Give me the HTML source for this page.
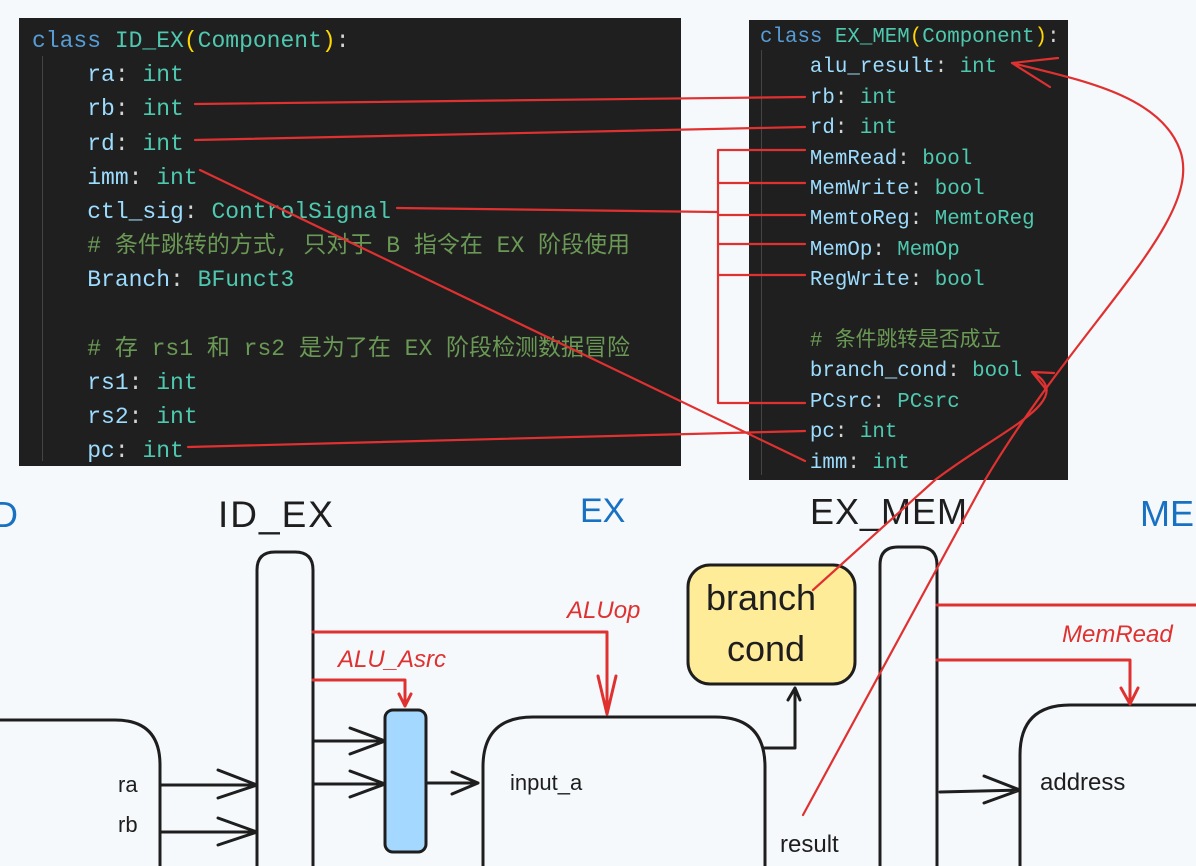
<!DOCTYPE html>
<html><head><meta charset="utf-8"><style>
html,body{margin:0;padding:0;background:#f5f9fc;}
body{width:1196px;height:866px;overflow:hidden;position:relative;}
.panel{position:absolute;background:#1f1f1f;}
.code{position:absolute;font-family:"Liberation Mono","Noto Sans CJK SC",monospace;white-space:pre;color:#9cdcfe;}
.k{color:#569cd6}.c{color:#4ec9b0}.p{color:#ffd700}.w{color:#d4d4d4}.m{color:#6a9955}
</style></head><body>
<div class="panel" style="left:19px;top:18px;width:662px;height:448px;"></div>
<div class="panel" style="left:749px;top:20px;width:319px;height:460px;"></div>
<div style="position:absolute;left:42px;top:56px;width:1px;height:405px;background:#444"></div>
<div style="position:absolute;left:761px;top:50px;width:1px;height:425px;background:#444"></div>
<div class="code" style="left:32px;top:24px;font-size:23px;line-height:34.2px;"><span class="k">class</span> <span class="c">ID_EX</span><span class="p">(</span><span class="c">Component</span><span class="p">)</span><span class="w">:</span>
    ra<span class="w">:</span> <span class="c">int</span>
    rb<span class="w">:</span> <span class="c">int</span>
    rd<span class="w">:</span> <span class="c">int</span>
    imm<span class="w">:</span> <span class="c">int</span>
    ctl_sig<span class="w">:</span> <span class="c">ControlSignal</span>
    <span class="m"># 条件跳转的方式, 只对于 B 指令在 EX 阶段使用</span>
    Branch<span class="w">:</span> <span class="c">BFunct3</span>

    <span class="m"># 存 rs1 和 rs2 是为了在 EX 阶段检测数据冒险</span>
    rs1<span class="w">:</span> <span class="c">int</span>
    rs2<span class="w">:</span> <span class="c">int</span>
    pc<span class="w">:</span> <span class="c">int</span></div>
<div class="code" style="left:760px;top:23px;font-size:20.8px;line-height:30.4px;"><span class="k">class</span> <span class="c">EX_MEM</span><span class="p">(</span><span class="c">Component</span><span class="p">)</span><span class="w">:</span>
    alu_result<span class="w">:</span> <span class="c">int</span>
    rb<span class="w">:</span> <span class="c">int</span>
    rd<span class="w">:</span> <span class="c">int</span>
    MemRead<span class="w">:</span> <span class="c">bool</span>
    MemWrite<span class="w">:</span> <span class="c">bool</span>
    MemtoReg<span class="w">:</span> <span class="c">MemtoReg</span>
    MemOp<span class="w">:</span> <span class="c">MemOp</span>
    RegWrite<span class="w">:</span> <span class="c">bool</span>

    <span class="m"># 条件跳转是否成立</span>
    branch_cond<span class="w">:</span> <span class="c">bool</span>
    PCsrc<span class="w">:</span> <span class="c">PCsrc</span>
    pc<span class="w">:</span> <span class="c">int</span>
    imm<span class="w">:</span> <span class="c">int</span></div>
<svg width="1196" height="866" style="position:absolute;left:0;top:0" fill="none" stroke-linecap="round" stroke-linejoin="round">
<g font-family="Liberation Sans, sans-serif">
<text x="-8" y="527" font-size="36" fill="#1971c2">D</text>
<text x="218" y="527" font-size="37" fill="#1e1e1e" letter-spacing="2">ID_EX</text>
<text x="580" y="522" font-size="34" fill="#1971c2">EX</text>
<text x="810" y="524" font-size="36" fill="#1e1e1e" letter-spacing="1">EX_MEM</text>
<text x="1140" y="526" font-size="36" fill="#1971c2">ME</text>
</g>
<g stroke="#1e1e1e" stroke-width="3">
<path d="M0,720 L115,720 Q160,720 160,765 L160,866"/>
<path d="M257,866 L257,570 Q257,552 275,552 L295,552 Q313,552 313,570 L313,866"/>
<path d="M880,866 L880,565 Q880,547 898,547 L919,547 Q937,547 937,565 L937,866"/>
<rect x="385" y="710" width="41" height="142" rx="8" fill="#a5d8ff"/>
<path d="M483,866 L483,767 Q483,717 533,717 L715,717 Q765,717 765,767 L765,866"/>
<path d="M1020,866 L1020,755 Q1020,705 1070,705 L1196,705"/>
<rect x="688" y="565" width="167" height="119" rx="22" fill="#ffec99"/>
<path d="M160,785 L257,785 M218,770 L257,785 L218,798"/>
<path d="M160,832 L257,832 M218,818 L257,832 L218,845"/>
<path d="M313,741 L385,741 M350,728 L385,741 L350,754"/>
<path d="M313,784 L385,784 M350,771 L385,784 L350,797"/>
<path d="M426,783 L478,783 M452,772 L478,783 L452,794"/>
<path d="M765,748 L795,748 L795,688 M788,700 L795,688 L800,700"/>
<path d="M940,792 L1020,790 M984,776 L1020,790 L984,803"/>
</g>
<g font-family="Liberation Sans, sans-serif" fill="#1e1e1e">
<text x="118" y="792" font-size="22">ra</text>
<text x="118" y="832" font-size="22">rb</text>
<text x="510" y="790" font-size="22">input_a</text>
<text x="780" y="852" font-size="24">result</text>
<text x="1040" y="790" font-size="24">address</text>
<text x="706" y="610" font-size="36">branch</text>
<text x="727" y="661" font-size="36">cond</text>
</g>
<g stroke="#e03131" stroke-width="3">
<path d="M313,632 L607,632 L607,714 M598,676 L607,714 L616,676"/>
<path d="M313,680 L405,680 L405,706 M399,694 L405,706 L411,694"/>
<path d="M937,605 L1196,605"/>
<path d="M937,660 L1130,660 L1130,704 M1121,688 L1130,704 L1138,688"/>
</g>
<g font-family="Liberation Sans, sans-serif" font-style="italic" fill="#e03131">
<text x="567" y="618" font-size="24">ALUop</text>
<text x="338" y="667" font-size="24">ALU_Asrc</text>
<text x="1062" y="642" font-size="24">MemRead</text>
</g>
<g stroke="#e03131" stroke-width="2.2">
<path d="M195,104 L805,97"/>
<path d="M195,140 L805,127"/>
<path d="M200,170 L805,461"/>
<path d="M397,208 L718,212"/>
<path d="M718,150 L718,403 M718,150 L805,150 M718,183 L805,183 M718,215 L805,215 M718,244 L805,244 M718,275 L805,275 M718,403 L805,403"/>
<path d="M188,447 L805,431"/>
<path d="M803,815 L985,480 C1080,320 1205,220 1180,150 C1160,95 1080,80 1012,63 M1012,63 L1058,58 M1012,63 L1050,87"/>
<path d="M813,590 L935,480 C1000,430 1080,400 1032,372 M1032,372 L1054,373 M1032,372 L1045,388"/>
</g>
</svg>
</body></html>
